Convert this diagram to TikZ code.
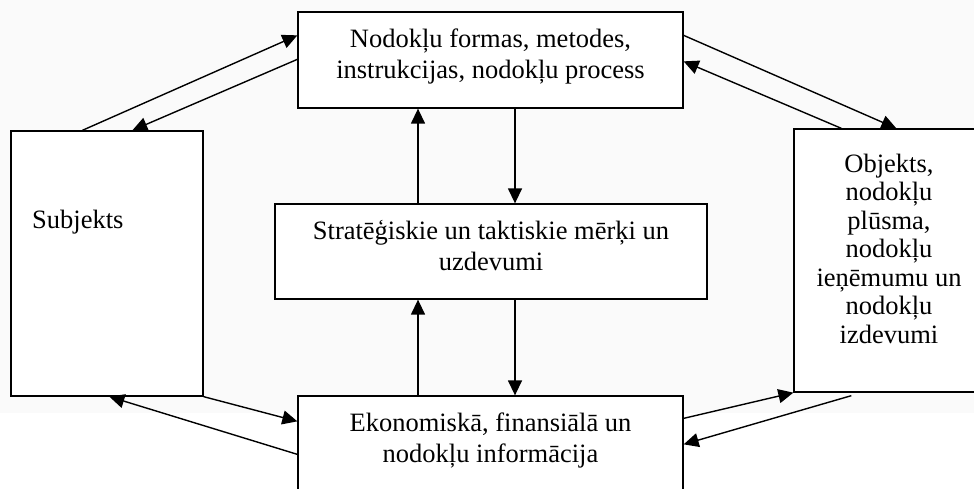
\documentclass[tikz,border=0pt]{standalone}
\usepackage{fontspec}
\setmainfont{Liberation Serif}
\usetikzlibrary{arrows.meta}
\begin{document}
\begin{tikzpicture}[x=1pt,y=-1pt,
  box/.style={draw=black,line width=1.3pt,fill=white,rectangle,inner sep=0pt},
  lbl/.style={inner sep=0pt,align=center,font=\fontsize{26.5}{31}\selectfont},
  flow/.style={line width=1.4pt,-{Triangle[length=15pt,width=14pt]}}]
  \useasboundingbox (0,0) rectangle (974,488);
  \clip (0,0) rectangle (974,488);
  % pale backdrop behind the upper part
  \fill[black!2] (0,0) rectangle (974,413);

  % boxes
  \node[box,minimum width=385pt,minimum height=96pt]  (top)  at (490.5,60)  {};
  \node[box,minimum width=192pt,minimum height=265pt] (subj) at (107,263.5) {};
  \node[box,minimum width=196pt,minimum height=263pt] (obj)  at (892,260.5) {};
  \node[box,minimum width=432pt,minimum height=95pt]  (mid)  at (491,251.5) {};
  \node[box,minimum width=385pt,minimum height=104pt] (bot)  at (490.5,448) {};

  % texts (base anchor sits on the last line)
  \node[lbl,anchor=base] (ttop) at (490.5,78) {Nodokļu formas, metodes,\\instrukcijas, nodokļu process};
  \node[lbl,anchor=base west] (tsubj) at (32,228) {Subjekts};
  \node[lbl,anchor=base,font=\fontsize{26.5}{28.5}\selectfont] (tobj) at (889,343)
    {Objekts,\\nodokļu\\plūsma,\\nodokļu\\ieņēmumu un\\nodokļu\\izdevumi};
  \node[lbl,anchor=base] (tmid) at (491,270) {Stratēģiskie un taktiskie mērķi un\\uzdevumi};
  \node[lbl,anchor=base] (tbot) at (490.5,462) {Ekonomiskā, finansiālā un\\nodokļu informācija};

  % connectors between the left box and the top box
  \draw[flow] ([xshift=72pt]subj.north west) -- ([yshift=-24pt]top.north west);
  \draw[flow] ([yshift=-48pt]top.north west) -- ([xshift=122pt]subj.north west);
  % connectors between the top box and the right box
  \draw[flow] ([yshift=-24pt]top.north east) -- ([xshift=103pt]obj.north west);
  \draw[flow] ([xshift=48pt]obj.north west) -- ([yshift=-50pt]top.north east);
  % vertical connectors through the middle box
  \draw[flow] ([xshift=24.5pt]top.south) -- ([xshift=24pt]mid.north);
  \draw[flow] ([xshift=-73pt]mid.north) -- ([xshift=-72.5pt]top.south);
  \draw[flow] ([xshift=24pt]mid.south) -- ([xshift=24.5pt]bot.north);
  \draw[flow] ([xshift=-72.5pt]bot.north) -- ([xshift=-73pt]mid.south);
  % connectors between the left box and the bottom box
  \draw[flow] (subj.south east) -- ([yshift=-26pt]bot.north west);
  \draw[flow] ([yshift=-59pt]bot.north west) -- ([xshift=99pt]subj.south west);
  % connectors between the bottom box and the right box
  \draw[flow] ([yshift=-23pt]bot.north east) -- (obj.south west);
  \draw[flow] ([xshift=58pt,yshift=-3pt]obj.south west) -- ([yshift=-49pt]bot.north east);
\end{tikzpicture}
\end{document}
